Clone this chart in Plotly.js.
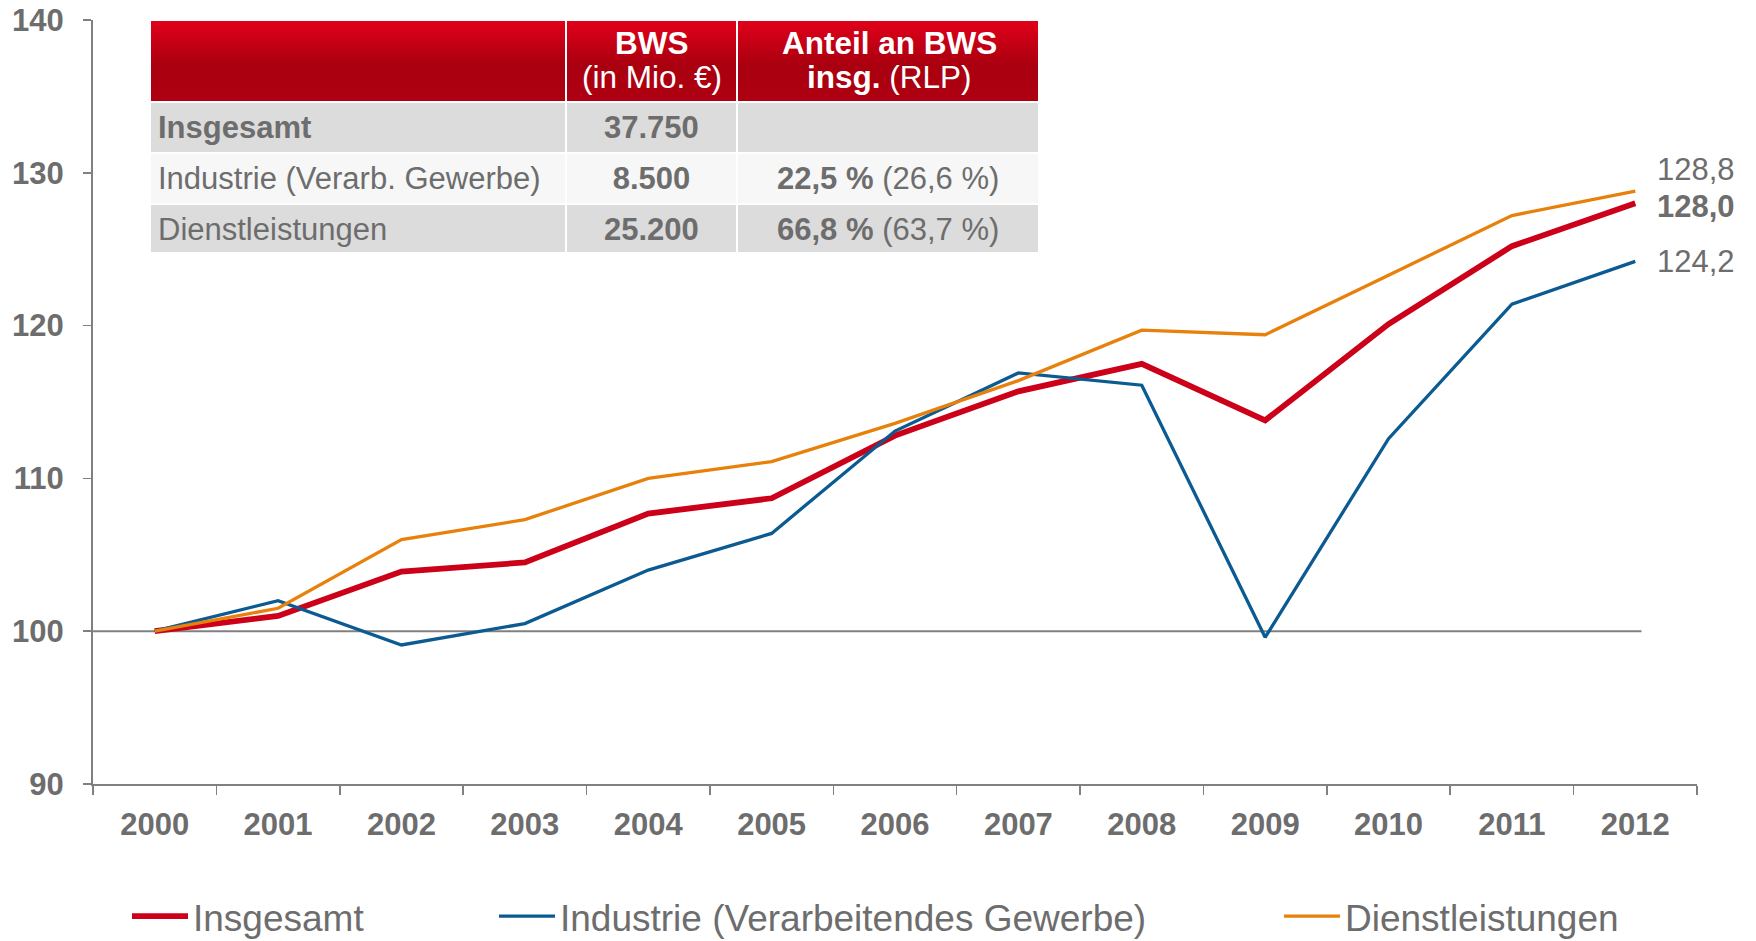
<!DOCTYPE html>
<html>
<head>
<meta charset="utf-8">
<script src="https://cdn.plot.ly/plotly-3.0.1.min.js"></script>
<style>
  html, body { margin: 0; padding: 0; background: #fff; }
  #chart { width: 1756px; height: 941px; }
</style>
</head>
<body>
<div id="chart"></div>
<script>
// Bruttowertschöpfung, Index 2000 = 100
const years = ['2000', '2001', '2002', '2003', '2004', '2005', '2006', '2007', '2008', '2009', '2010', '2011', '2012'];
const insgesamt = [100, 101.0, 103.9, 104.5, 107.7, 108.7, 112.8, 115.7, 117.5, 113.8, 120.1, 125.2, 128.0];
const industrie = [100, 102.0, 99.1, 100.5, 104.0, 106.4, 113.1, 116.9, 116.1, 99.6, 112.6, 121.4, 124.2];
const dienstleistungen = [100, 101.5, 106.0, 107.3, 110.0, 111.1, 113.6, 116.4, 119.7, 119.4, 123.3, 127.2, 128.8];
const seriesNames = ['Insgesamt', 'Industrie (Verarbeitendes Gewerbe)', 'Dienstleistungen'];
const baseIndex = 100;

// Table in the upper left
const headerTop = ['', '<b>BWS</b>', '<b>Anteil an BWS</b>'];
const headerBottom = ['', '(in Mio. €)', '<b>insg.</b> (RLP)'];
const tableSectors = ['<b>Insgesamt</b>', '<span>Industrie\u00a0(Verarb.\u00a0Gewerbe)</span>', '<span>Dienstleistungen</span>'];
const tableBws = ['<b>37.750</b>', '<b>8.500</b>', '<b>25.200</b>'];
const tableShare = ['', '<b>22,5\u00a0%</b>\u00a0(26,6\u00a0%)', '<b>66,8\u00a0%</b>\u00a0(63,7\u00a0%)'];

const FONT = 'Liberation Sans, Arial, sans-serif';
const TEXT = '#6d6d6d';
const AXIS = '#808080';
const colors = ['#cc0019', '#0b5a91', '#e8800c'];
const widths = [5.8, 3.3, 3.3];

// plot area in pixels: x 93..1697, y 20..784
const W = 1756, H = 941;
const plotL = 93, plotR = 1697, plotT = 20, plotB = 784;
const px = v => (v - plotL) / (plotR - plotL);
const py = v => 1 - (v - plotT) / (plotB - plotT);

const tableLeft = 150, tableRight = 1040, tableTop = 20, headerH = 82, rowH = 50;
const colWidths = [416, 172, 302];

const series = [insgesamt, industrie, dienstleistungen];
const legendIds = ['legend', 'legend2', 'legend3'];

const traces = series.map((vals, i) => ({
  x: years,
  y: vals,
  type: 'scatter',
  mode: 'lines',
  name: seriesNames[i],
  legend: legendIds[i],
  line: { color: colors[i], width: widths[i] },
  hoverinfo: 'x+y+name'
}));

traces.push({
  type: 'table',
  domain: { x: [px(tableLeft), px(tableRight)], y: [py(tableTop + headerH + 3 * rowH), 1] },
  columnwidth: colWidths,
  header: {
    values: ['', '', ''],
    fill: { color: 'rgba(0,0,0,0)' },
    line: { color: '#ffffff', width: 2 },
    font: { family: FONT, size: 20, color: '#ffffff' },
    height: headerH
  },
  cells: {
    values: [tableSectors, tableBws, tableShare],
    align: ['left', 'center', 'center'],
    fill: { color: [
      ['#dcdcdc', '#f7f7f7', '#dcdcdc'],
      ['#dcdcdc', '#f7f7f7', '#dcdcdc'],
      ['#dcdcdc', '#f7f7f7', '#dcdcdc']
    ] },
    line: { color: '#ffffff', width: 2 },
    font: { family: FONT, size: 31, color: TEXT },
    height: rowH
  }
});

// header labels, centred per line
const annotations = [];
let colX = tableLeft;
colWidths.forEach((w, c) => {
  const cx = px(colX + w / 2);
  colX += w;
  if (!headerTop[c]) return;
  [[headerTop[c], 43], [headerBottom[c], 77]].forEach(([txt, yy]) => {
    annotations.push({
      x: cx, y: py(yy), xref: 'paper', yref: 'paper',
      text: txt, showarrow: false, xanchor: 'center', yanchor: 'middle',
      font: { family: FONT, size: 31.5, color: '#ffffff' }
    });
  });
});

// end-of-line value labels
const labelShift = [-3, 0, 22];
series.forEach((vals, i) => {
  const last = vals[vals.length - 1];
  const txt = last.toFixed(1).replace('.', ',');
  annotations.push({
    x: years.length - 1,
    y: last,
    xref: 'x',
    yref: 'y',
    text: i === 0 ? '<b>' + txt + '</b>' : txt,
    showarrow: false,
    xanchor: 'left',
    yanchor: 'middle',
    xshift: 20,
    yshift: labelShift[i],
    font: { family: FONT, size: 31, color: TEXT }
  });
});

const gradientSvg = "<svg xmlns='http://www.w3.org/2000/svg' width='10' height='10' preserveAspectRatio='none'>" +
  "<defs><linearGradient id='g' x1='0' y1='0' x2='0' y2='1'>" +
  "<stop offset='0' stop-color='#e2001a'/><stop offset='0.55' stop-color='#a9000f'/><stop offset='1' stop-color='#ae0012'/>" +
  "</linearGradient></defs><rect width='10' height='10' fill='url(#g)'/></svg>";

const legendBase = {
  orientation: 'h',
  xref: 'container',
  yref: 'container',
  yanchor: 'middle',
  y: 0.026,
  itemwidth: 56,
  bgcolor: 'rgba(0,0,0,0)',
  font: { family: FONT, size: 37, color: TEXT }
};

const layout = {
  width: W,
  height: H,
  margin: { l: plotL, r: W - plotR, t: plotT, b: H - plotB },
  paper_bgcolor: '#ffffff',
  plot_bgcolor: 'rgba(0,0,0,0)',
  font: { family: FONT, color: TEXT },
  showlegend: true,
  legend: Object.assign({}, legendBase, { x: 127 / W }),
  legend2: Object.assign({}, legendBase, { x: 494 / W }),
  legend3: Object.assign({}, legendBase, { x: 1279 / W }),
  xaxis: {
    type: 'category',
    range: [-0.5, 12.5],
    showgrid: false,
    zeroline: false,
    showline: true,
    linecolor: AXIS,
    linewidth: 2,
    ticks: 'outside',
    tickson: 'boundaries',
    ticklen: 9,
    tickwidth: 1.5,
    tickcolor: AXIS,
    ticklabelstandoff: 12,
    tickfont: { family: FONT, size: 31, color: TEXT, weight: 'bold' }
  },
  yaxis: {
    range: [90, 140],
    dtick: 10,
    showgrid: false,
    zeroline: false,
    showline: true,
    linecolor: AXIS,
    linewidth: 2,
    ticks: 'outside',
    ticklen: 8,
    tickwidth: 1.5,
    tickcolor: AXIS,
    ticklabelstandoff: 13,
    tickfont: { family: FONT, size: 31, color: TEXT, weight: 'bold' }
  },
  shapes: [{
    type: 'line',
    xref: 'x',
    yref: 'y',
    x0: -0.5,
    x1: 12.05,
    y0: baseIndex,
    y1: baseIndex,
    line: { color: AXIS, width: 2 },
    layer: 'below'
  }],
  images: [{
    source: 'data:image/svg+xml;charset=utf-8,' + encodeURIComponent(gradientSvg),
    xref: 'paper',
    yref: 'paper',
    x: px(tableLeft),
    y: 1,
    sizex: px(tableRight) - px(tableLeft),
    sizey: headerH / (plotB - plotT),
    sizing: 'stretch',
    xanchor: 'left',
    yanchor: 'top',
    layer: 'below'
  }],
  annotations: annotations
};

Plotly.newPlot('chart', traces, layout, { displayModeBar: false, staticPlot: true });
</script>
</body>
</html>
